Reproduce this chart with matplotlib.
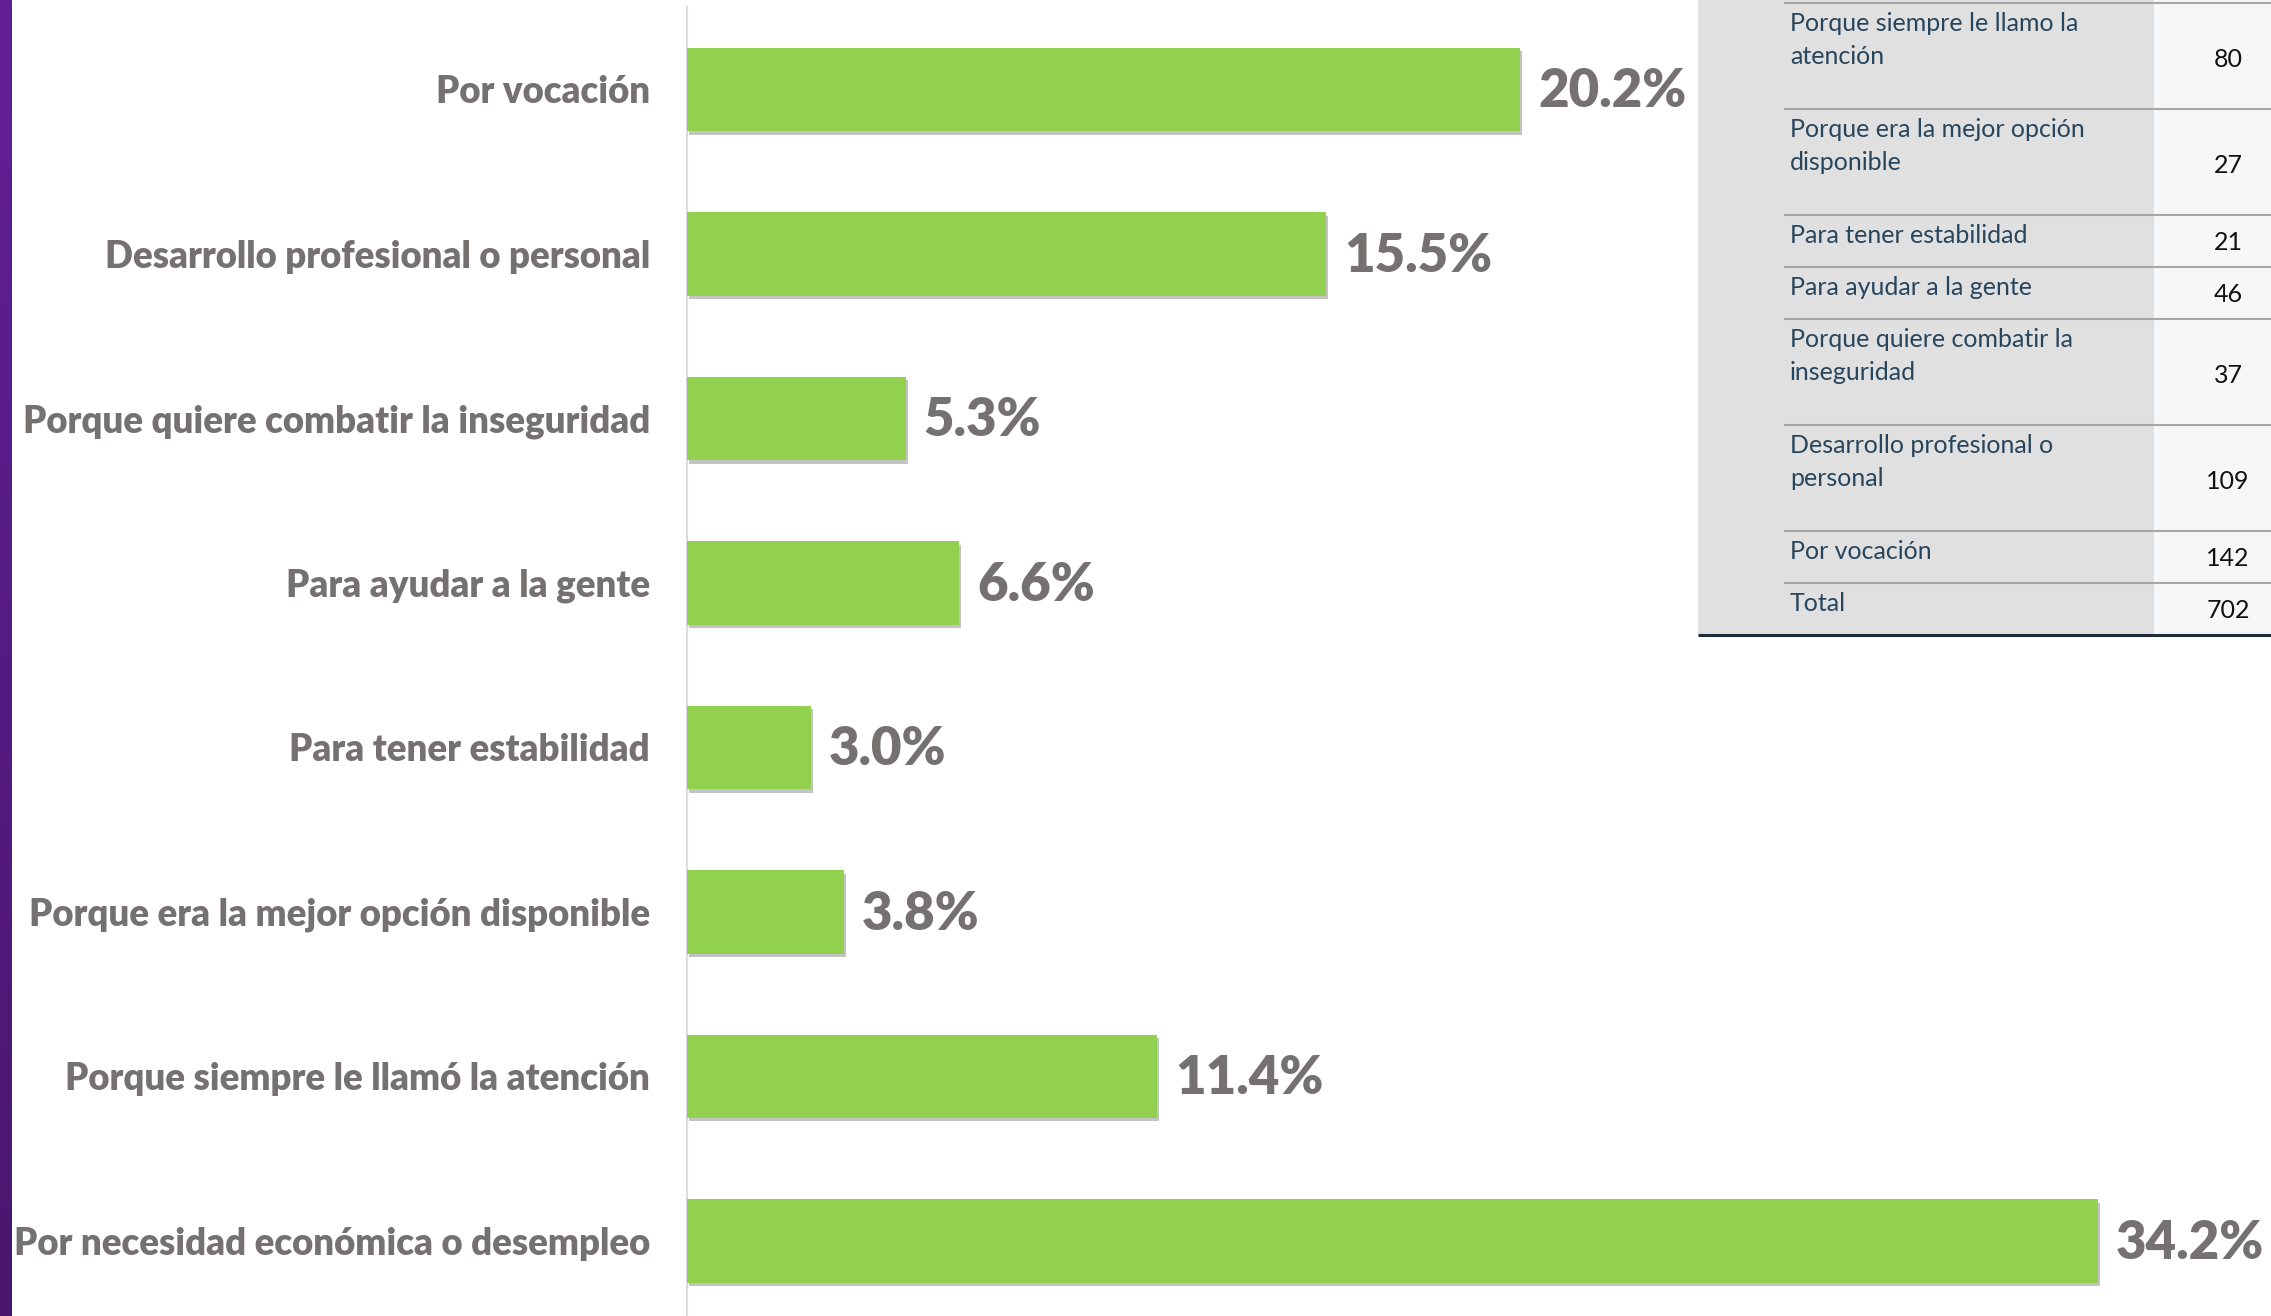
import numpy as np
import matplotlib.pyplot as plt
from matplotlib import patheffects as pe
from matplotlib.colors import LinearSegmentedColormap

plt.rcParams['font.family'] = ['Lato', 'DejaVu Sans']

# bar chart data (top to bottom)
categories = ['Por vocación', 'Desarrollo profesional o personal',
              'Porque quiere combatir la inseguridad', 'Para ayudar a la gente',
              'Para tener estabilidad', 'Porque era la mejor opción disponible',
              'Porque siempre le llamó la atención', 'Por necesidad económica o desempleo']
percentages = [20.2, 15.5, 5.3, 6.6, 3.0, 3.8, 11.4, 34.2]

# frequency table (as printed in the original)
table_labels = ['Porque siempre le llamo la\natención',
                'Porque era la mejor opción\ndisponible',
                'Para tener estabilidad',
                'Para ayudar a la gente',
                'Porque quiere combatir la\ninseguridad',
                'Desarrollo profesional o\npersonal',
                'Por vocación',
                'Total']
table_counts = [80, 27, 21, 46, 37, 109, 142, 702]

W, H = 2271, 1316
fig = plt.figure(figsize=(W / 100, H / 100), dpi=100)
fig.patch.set_facecolor('white')

label_grey = '#767171'
green = '#92d050'

# main bar axes
ax_left = 687 / W
ax = fig.add_axes([ax_left, 0, 1 - ax_left, (H - 7.25) / H])
y = np.arange(len(categories))
bars = ax.barh(y, percentages, height=0.505, color=green, zorder=3)
for b in bars:
    b.set_path_effects([pe.SimplePatchShadow(offset=(1.5, -2.5), shadow_rgbFace='#555555', alpha=0.35),
                        pe.Normal()])

ax.set_xlim(0, 38.4)
ax.set_ylim(7.456, -0.5)
ax.set_yticks(y, labels=categories)
ax.tick_params(axis='y', length=0, pad=26.6, labelsize=26.4, labelcolor=label_grey)
for t in ax.get_yticklabels():
    t.set_fontweight('heavy')
ax.set_xticks([])
for s in ['top', 'right', 'bottom']:
    ax.spines[s].set_visible(False)
ax.spines['left'].set_color('#d9dbe4')
ax.spines['left'].set_linewidth(1.5)
ax.set_facecolor('none')

for yi, v in zip(y, percentages):
    ax.annotate(f'{v:.1f}%', (v, yi), xytext=(13, -1.5), textcoords='offset points',
                va='center', ha='left', fontsize=38, fontweight='heavy', color=label_grey)

# overlay in pixel coordinates for the stripe and the table
ov = fig.add_axes([0, 0, 1, 1], zorder=5)
ov.axis('off')
ov.patch.set_alpha(0)

# purple stripe on the left
cmap = LinearSegmentedColormap.from_list('stripe', ['#622096', '#4a166e'])
ov.imshow(np.linspace(0, 1, 256).reshape(-1, 1), cmap=cmap, aspect='auto',
          extent=(0, 12, H, 0))
ov.set_xlim(0, W)
ov.set_ylim(H, 0)

# table
tbl_left, col_split, tbl_top = 1698, 2154, 3
line_h = 33
row_heights = [52 + 54 * (lab.count('\n')) for lab in table_labels]
tbl_bottom = tbl_top + sum(row_heights)
ov.add_patch(plt.Rectangle((tbl_left, 0), col_split - tbl_left, tbl_bottom, color='#e0e0e0', lw=0))
ov.add_patch(plt.Rectangle((col_split, 0), W - col_split, tbl_bottom, color='#f6f7f9', lw=0))

top = tbl_top
text_color = '#27455c'
for lab, cnt, rh in zip(table_labels, table_counts, row_heights):
    ov.plot([1784, W], [top, top], color='#a6a6a6', lw=1.5, solid_capstyle='butt')
    lines = lab.split('\n')
    for i, ln in enumerate(lines):
        ov.text(1790, top + 28 + line_h * i, ln, fontsize=18, color=text_color,
                va='baseline', ha='left')
    ov.text(2228, top + 35 + 29 * (len(lines) - 1), str(cnt), fontsize=18,
            color='#111111', va='baseline', ha='center')
    top += rh
ov.plot([tbl_left, W], [tbl_bottom, tbl_bottom], color='#1e2d38', lw=2.2, solid_capstyle='butt')

fig.savefig('out.png', dpi=100)
